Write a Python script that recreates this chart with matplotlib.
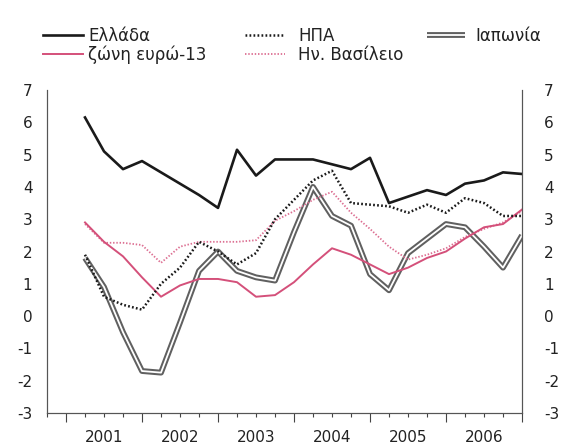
import matplotlib
matplotlib.use('Agg')
import matplotlib.pyplot as plt
import matplotlib.patheffects as pe
import numpy as np

plt.rcParams['font.family'] = ['DejaVu Sans']

# ============================================================
# data: quarterly y/y growth, 2001Q1 - 2006Q4
# ============================================================
years = [2001, 2002, 2003, 2004, 2005, 2006]
quarters = [(y, q) for y in years for q in (1, 2, 3, 4)]

greece = [6.15, 5.10, 4.55, 4.80, 4.45, 4.10, 3.75, 3.35, 5.15, 4.35, 4.85, 4.85,
          4.85, 4.70, 4.55, 4.90, 3.50, 3.70, 3.90, 3.75, 4.10, 4.20, 4.45, 4.40]
euro13 = [2.90, 2.30, 1.85, 1.20, 0.60, 0.95, 1.15, 1.15, 1.05, 0.60, 0.65, 1.05,
          1.60, 2.10, 1.90, 1.60, 1.30, 1.50, 1.80, 2.00, 2.40, 2.75, 2.85, 3.30]
usa = [1.90, 0.60, 0.35, 0.20, 1.00, 1.50, 2.30, 2.00, 1.60, 1.95, 3.00, 3.60,
       4.20, 4.50, 3.50, 3.45, 3.40, 3.20, 3.45, 3.20, 3.65, 3.50, 3.10, 3.10]
uk = [2.85, 2.27, 2.27, 2.20, 1.65, 2.15, 2.30, 2.30, 2.30, 2.35, 2.95, 3.25,
      3.60, 3.85, 3.20, 2.70, 2.15, 1.75, 1.90, 2.10, 2.45, 2.70, 2.90, 3.25]
japan = [1.80, 0.90, -0.50, -1.70, -1.75, -0.20, 1.40, 2.00, 1.40, 1.20, 1.10, 2.60,
         4.00, 3.10, 2.80, 1.30, 0.80, 1.95, 2.40, 2.85, 2.75, 2.15, 1.50, 2.50]

labels = ['Ελλάδα', 'ζώνη ευρώ-13', 'ΗΠΑ', 'Ην. Βασίλειο', 'Ιαπωνία']
y_ticks = list(range(-3, 8))

# quarter position on a continuous time axis (plotted at end of quarter)
x = np.array([y + q / 4 for y, q in quarters])

pink = '#d4507a'
pink_light = '#dc6f92'
txt_col = '#222222'

fig = plt.figure(figsize=(5.65, 4.48), dpi=100)
ax = fig.add_axes([0.0832, 0.0781, 0.8407, 0.721])

l_gr, = ax.plot(x, greece, color='#1a1a1a', lw=1.9, zorder=5)
l_eu, = ax.plot(x, euro13, color=pink, lw=1.4, zorder=4)
l_us, = ax.plot(x, usa, color='#1a1a1a', lw=1.8, ls=(0, (0.7, 0.9)), zorder=4)
l_uk, = ax.plot(x, uk, color=pink_light, lw=1.3, ls=(0, (0.8, 1.0)), zorder=3)
# double line: grey stroke with a white core
l_jp, = ax.plot(x, japan, color='white', lw=1.3, zorder=2, solid_capstyle='butt',
                path_effects=[pe.Stroke(linewidth=4.2, foreground='#606060'), pe.Normal()])

ax.set_xlim(2000.75, 2007.0)
ax.set_ylim(-3, 7)

# y labels: left on ax, right on a twin with its own padding
ax.set_yticks(y_ticks)
ax.set_yticklabels([str(v) for v in y_ticks])
ax.tick_params(axis='y', length=0, labelsize=11, pad=10.5, labelcolor=txt_col)

ax_r = ax.twinx()
ax_r.set_ylim(ax.get_ylim())
ax_r.set_yticks(y_ticks)
ax_r.set_yticklabels([str(v) for v in y_ticks])
ax_r.tick_params(axis='y', length=0, labelsize=11, pad=16, labelcolor=txt_col)

# x: long ticks at year boundaries, short ticks at quarters, labels at year middle
year_edges = years + [years[-1] + 1]
ax.set_xticks(year_edges)
ax.set_xticklabels([''] * len(year_edges))
q_pos = np.arange(2000.75, 2007.01, 0.25)
q_lab = [str(int(p)) if abs(p - int(p) - 0.5) < 1e-6 else '' for p in q_pos]
ax.set_xticks(q_pos, minor=True)
ax.set_xticklabels(q_lab, minor=True)
ax.tick_params(axis='x', which='major', length=6.5, width=0.8, color='#444444')
ax.tick_params(axis='x', which='minor', length=3.2, width=0.8, color='#444444',
               labelsize=11, pad=9, labelcolor=txt_col)

for a in (ax, ax_r):
    for s in ['left', 'right', 'bottom']:
        a.spines[s].set_linewidth(0.8)
        a.spines[s].set_color('#555555')
    a.spines['top'].set_visible(False)

# legend: one block per column, placed like the original
top = 0.94
cols = [([l_gr, l_eu], labels[0:2], 0.0761, 2.4, 0.3),
        ([l_us, l_uk], labels[2:4], 0.4336, 2.4, 0.8),
        ([l_jp], labels[4:5], 0.7558, 2.3, 0.6)]
for handles, labs, x0, hl, pad in cols:
    leg = fig.legend(handles, labs, loc='upper left', bbox_to_anchor=(x0, top),
                     frameon=False, fontsize=12, handlelength=hl, handletextpad=pad,
                     labelspacing=0.05, borderaxespad=0, borderpad=0)
    for t in leg.get_texts():
        t.set_color(txt_col)

fig.savefig('out.png', dpi=100, facecolor='white')
